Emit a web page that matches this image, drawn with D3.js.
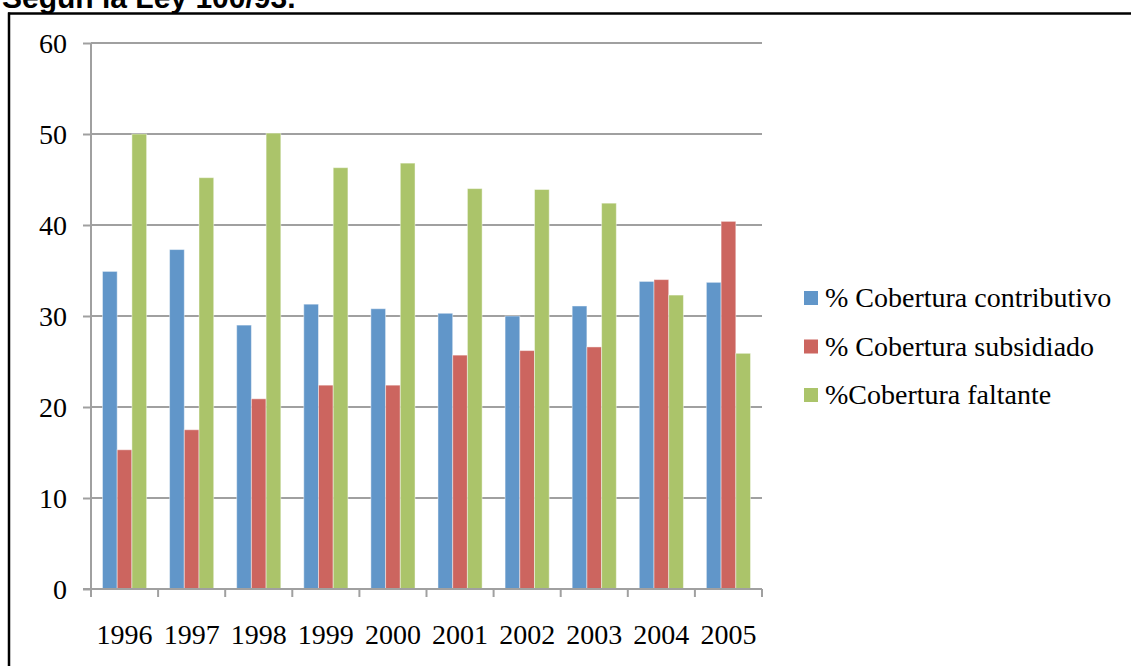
<!DOCTYPE html>
<html><head><meta charset="utf-8">
<script src="https://cdn.jsdelivr.net/npm/d3@7"></script>
<style>body{margin:0;background:#fff}svg{display:block}</style>
</head><body>
<svg id="c" width="1131" height="666"></svg>
<script>
const years = ["1996","1997","1998","1999","2000","2001","2002","2003","2004","2005"];
const seriesNames = ["% Cobertura contributivo","% Cobertura subsidiado","%Cobertura faltante"];
const contributivo = [34.9,37.3,29.0,31.3,30.8,30.3,30.0,31.1,33.8,33.7];
const subsidiado   = [15.3,17.5,20.9,22.4,22.4,25.7,26.2,26.6,34.0,40.4];
const faltante     = [50.0,45.2,50.1,46.3,46.8,44.0,43.9,42.4,32.3,25.9];
const yTicks = [0,10,20,30,40,50,60];
const colors = ["#6196C9","#CC655F","#ABC46A"];
const title = "Según la Ley 100/93.";

const values = [contributivo, subsidiado, faltante];
const svg = d3.select("#c");
const serif = "'Liberation Serif', 'Times New Roman', serif";

// frame
svg.append("line").attr("x1",9).attr("x2",9).attr("y1",12.5).attr("y2",666).attr("stroke","#000").attr("stroke-width",2.5);
svg.append("line").attr("x1",8).attr("x2",1131).attr("y1",13.5).attr("y2",13.5).attr("stroke","#000").attr("stroke-width",2.5);
svg.append("text").attr("x",2).attr("y",8).attr("font-family","'Liberation Sans', Arial, sans-serif")
  .attr("font-weight","bold").attr("font-size",30).attr("fill","#000").text(title);

const y = d3.scaleLinear().domain([0,60]).range([589,43]);
const x0 = d3.scaleBand().domain(years).range([91,762]).padding(0);
const x1 = d3.scaleBand().domain([0,1,2]).range([0,x0.bandwidth()]).paddingInner(0).paddingOuter(0.78);

// gridlines
svg.append("g").selectAll("line").data(yTicks.filter(t=>t>0)).join("line")
  .attr("x1",91).attr("x2",762).attr("y1",d=>y(d)).attr("y2",d=>y(d))
  .attr("stroke","#A0A0A0").attr("stroke-width",2);

// y axis
const yAxis = d3.axisLeft(y).tickValues(yTicks).tickSize(8).tickPadding(16).tickFormat(d3.format("d"));
const gy = svg.append("g").attr("transform","translate(91,0)").call(yAxis);
gy.select(".domain").attr("stroke","#A0A0A0").attr("stroke-width",2).attr("d","M0,43V589");
gy.selectAll(".tick line").attr("stroke","#A0A0A0").attr("stroke-width",2);
gy.selectAll(".tick text").attr("font-family",serif).attr("font-size",28).attr("fill","#000").attr("dy","0.33em");

// bars
const groups = svg.append("g").selectAll("g").data(years).join("g")
  .attr("transform",d=>`translate(${x0(d)},0)`);
groups.selectAll("rect").data((d,i)=>values.map((v,s)=>({s,v:v[i]}))).join("rect")
  .attr("x",d=>x1(d.s)).attr("width",x1.bandwidth())
  .attr("y",d=>y(d.v)).attr("height",d=>y(0)-y(d.v))
  .attr("fill",d=>colors[d.s]).attr("stroke","rgba(255,255,255,0.45)").attr("stroke-width",1);

// x axis
const gx = svg.append("g").attr("transform","translate(0,589)");
gx.append("line").attr("x1",83).attr("x2",762).attr("y1",0).attr("y2",0).attr("stroke","#A0A0A0").attr("stroke-width",2);
const bounds = years.map(d=>x0(d)).concat([x0(years[years.length-1])+x0.bandwidth()]);
gx.selectAll("line.t").data(bounds).join("line").attr("class","t")
  .attr("x1",d=>d).attr("x2",d=>d).attr("y1",0).attr("y2",8).attr("stroke","#A0A0A0").attr("stroke-width",2);
gx.selectAll("text").data(years).join("text")
  .attr("x",d=>x0(d)+x0.bandwidth()/2).attr("y",55).attr("text-anchor","middle")
  .attr("font-family",serif).attr("font-size",28).attr("fill","#000").text(d=>d);

// legend
const leg = svg.append("g").selectAll("g").data(seriesNames).join("g")
  .attr("transform",(d,i)=>`translate(804,${298+i*48.5})`);
leg.append("rect").attr("x",0).attr("y",-7).attr("width",14).attr("height",14).attr("fill",(d,i)=>colors[i]);
leg.append("text").attr("x",21).attr("y",0).attr("dy","0.33em").attr("font-family",serif)
  .attr("font-size",28).attr("fill","#000").text(d=>d);
</script>
</body></html>
